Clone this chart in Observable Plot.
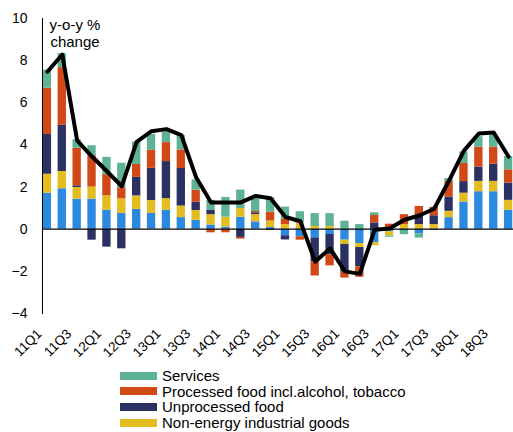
<!DOCTYPE html>
<html><head><meta charset="utf-8">
<script src="https://cdn.jsdelivr.net/npm/d3@7"></script>
<script src="https://cdn.jsdelivr.net/npm/@observablehq/plot@0.6"></script>
<style>
body{margin:0;background:#fff;font-family:"Liberation Sans",Arial,sans-serif;color:#000;}
#wrap{position:relative;width:513px;height:432px;overflow:hidden;}
#chart{position:absolute;left:0;top:0;}
#unit{position:absolute;left:45px;top:16px;width:60px;text-align:center;font-size:15px;line-height:17px;}
#legend{position:absolute;left:120px;top:368px;font-size:15px;}
.item{display:flex;align-items:center;height:15.6px;white-space:nowrap;}
.sw{width:37px;height:8px;margin-right:5px;flex:none;}
</style></head><body>
<div id="wrap"><div id="chart"></div><div id="unit">y-o-y %<br>change</div><div id="legend"></div></div>
<script>
const quarters = ["11Q1","11Q2","11Q3","11Q4","12Q1","12Q2","12Q3","12Q4","13Q1","13Q2","13Q3","13Q4","14Q1","14Q2","14Q3","14Q4","15Q1","15Q2","15Q3","15Q4","16Q1","16Q2","16Q3","16Q4","17Q1","17Q2","17Q3","17Q4","18Q1","18Q2","18Q3","18Q4"];
const xTickLabels = ["11Q1","11Q3","12Q1","12Q3","13Q1","13Q3","14Q1","14Q3","15Q1","15Q3","16Q1","16Q3","17Q1","17Q3","18Q1","18Q3"];
const yTicks = [-4,-2,0,2,4,6,8,10];
const seriesNames = ["Energy","Non-energy industrial goods","Unprocessed food","Processed food incl.alcohol, tobacco","Services"];
const seriesColors = ["#2b8ae0","#e3bc1f","#2c3164","#d04916","#5db394"];
const energy = [1.71,1.92,1.43,1.43,0.90,0.75,0.94,0.75,0.90,0.55,0.42,0.20,0.10,0.57,0.35,0.08,-0.31,-0.36,-0.41,-0.25,-0.52,-0.68,-0.64,-0.12,-0.06,-0.22,-0.06,0.55,1.29,1.78,1.78,0.90];
const nonEnergyGoods = [0.90,0.82,0.55,0.57,0.69,0.69,0.64,0.61,0.55,0.55,0.47,0.49,0.47,0.41,0.35,0.31,0.22,0.31,0.13,0.13,-0.20,-0.19,-0.14,-0.20,0.22,0.22,0.22,0.30,0.42,0.49,0.49,0.47];
const unprocessedFood = [1.89,2.19,0.08,-0.52,-0.85,-0.93,0.88,1.53,1.76,1.78,0.39,0.22,0.00,-0.39,0.08,-0.05,-0.20,0.00,-1.13,-0.97,-1.32,-0.91,0.30,0.00,0.00,0.42,0.42,0.68,0.55,0.68,0.82,0.82];
const processedFood = [2.19,2.74,1.78,1.49,1.00,0.53,0.61,0.86,0.90,0.88,0.57,-0.17,-0.17,-0.08,0.06,0.42,0.25,-0.16,-0.68,-0.52,-0.28,-0.50,0.35,0.24,0.47,0.44,0.39,0.74,0.86,0.94,0.80,0.63];
const services = [0.86,0.66,0.41,0.47,0.82,1.16,1.07,0.75,0.52,0.68,0.49,0.46,0.94,0.88,0.60,0.68,0.58,0.52,0.61,0.61,0.38,0.22,0.13,-0.06,-0.20,-0.20,0.02,0.14,0.55,0.50,0.58,0.63];
const hicp = [7.47,8.29,4.20,3.45,2.75,2.04,4.15,4.65,4.75,4.47,2.45,1.27,1.27,1.27,1.58,1.47,0.58,0.38,-1.54,-0.91,-2.00,-2.12,-0.02,0.03,0.45,0.65,0.97,2.31,3.73,4.54,4.59,3.44];
const legendItems = ["Services","Processed food incl.alcohol, tobacco","Unprocessed food","Non-energy industrial goods"];

const seriesValues = [energy, nonEnergyGoods, unprocessedFood, processedFood, services];
const bars = [];
seriesValues.forEach((vals, s) => vals.forEach((v, i) => bars.push({quarter: quarters[i], series: seriesNames[s], value: v})));
const lineData = quarters.map((q, i) => ({quarter: q, value: hicp[i]}));

const chart = Plot.plot({
  width: 513, height: 372,
  marginLeft: 42, marginRight: 0, marginTop: 18, marginBottom: 59,
  style: {fontFamily: "'Liberation Sans', Arial, sans-serif", fontSize: "14px", color: "#000", background: "transparent"},
  x: {type: "band", domain: quarters, paddingInner: 0.44, paddingOuter: 0.05, round: false, label: null},
  y: {domain: [-4, 10], label: null},
  color: {domain: seriesNames, range: seriesColors},
  marks: [
    Plot.barY(bars, {x: "quarter", y: "value", fill: "series"}),
    Plot.ruleY([0], {stroke: "#000", strokeWidth: 1.2}),
    Plot.frame({anchor: "left", stroke: "#000", strokeWidth: 1}),
    Plot.line(lineData, {x: "quarter", y: "value", stroke: "#000", strokeWidth: 4, curve: "linear", strokeLinejoin: "round"}),
    Plot.axisY({ticks: yTicks, tickSize: 0, tickPadding: 15, fontSize: 14}),
    Plot.axisX({ticks: xTickLabels, tickSize: 0, tickPadding: 10, tickRotate: -45, fontSize: 13.5, dx: -8, dy: 8})
  ]
});
document.getElementById("chart").appendChild(chart);

const leg = document.getElementById("legend");
legendItems.forEach(name => {
  const d = document.createElement("div"); d.className = "item";
  const sw = document.createElement("span"); sw.className = "sw";
  sw.style.background = seriesColors[seriesNames.indexOf(name)];
  const t = document.createElement("span"); t.textContent = name;
  d.appendChild(sw); d.appendChild(t); leg.appendChild(d);
});
</script>
</body></html>
